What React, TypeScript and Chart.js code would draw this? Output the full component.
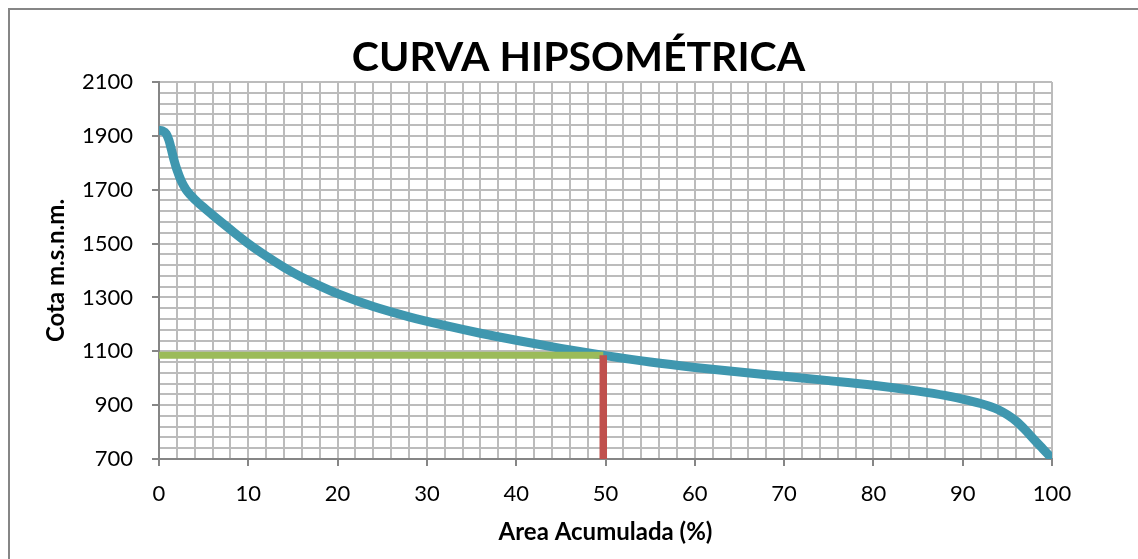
import React, { useEffect, useRef } from "react";
import { Chart, registerables } from "chart.js";

Chart.register(...registerables);

// ---- data ----
const areaAcumulada = [0, 0.4, 0.8, 1.1, 1.4, 1.7, 2, 2.5, 3, 3.5, 4, 5, 6, 8, 10, 12, 14, 16, 18, 20, 24, 28, 32, 36, 40, 45, 50, 55, 60, 65, 70, 75, 80, 85, 88, 90, 92, 93, 94, 95, 96, 97, 98, 99, 100];
const cotaMsnm = [1920, 1918, 1908, 1885, 1848, 1808, 1775, 1732, 1702, 1681, 1664, 1634, 1606, 1552, 1500, 1454, 1412, 1375, 1343, 1314, 1266, 1228, 1196, 1167, 1141, 1111, 1084, 1060, 1040, 1023, 1007, 991, 974, 952, 936, 922, 906, 896, 883, 864, 840, 808, 772, 737, 702];

const medianX = [0, 49.75];
const medianY = [1085, 1085];
const verticalX = [49.75, 49.75];
const verticalY = [1085, 700];

const chartTitle = "CURVA HIPSOMÉTRICA";
const xAxisTitle = "Area Acumulada (%)";
const yAxisTitle = "Cota m.s.n.m.";

const xMin = 0, xMax = 100, xMajor = 10, xMinor = 2;
const yMin = 700, yMax = 2100, yMajor = 200, yMinor = 40;

const toPoints = (xs: number[], ys: number[]) => xs.map((x, i) => ({ x, y: ys[i] }));

const FONT = "Lato";
const GRID = "#bcbcbc";
const AXIS = "#868686";

const CANVAS_W = 1137;
const CANVAS_H = 549;

const titlePlugin = {
  id: "centeredTitle",
  afterDraw(chart: any) {
    const ctx = chart.ctx;
    ctx.save();
    ctx.fillStyle = "#000";
    ctx.font = `bold 41px ${FONT}`;
    ctx.textAlign = "center";
    ctx.textBaseline = "middle";
    ctx.fillText(chartTitle, chart.width / 2, 48);
    ctx.restore();
  },
};

export default function App() {
  const ref = useRef<HTMLCanvasElement | null>(null);

  useEffect(() => {
    if (!ref.current) return;
    const chart = new Chart(ref.current, {
      type: "line",
      data: {
        datasets: [
          {
            data: toPoints(verticalX, verticalY),
            borderColor: "#C0504D",
            borderWidth: 7.5,
            pointRadius: 0,
            tension: 0,
          },
          {
            data: toPoints(medianX, medianY),
            borderColor: "#9BBB59",
            borderWidth: 7,
            pointRadius: 0,
            tension: 0,
          },
          {
            data: toPoints(areaAcumulada, cotaMsnm),
            borderColor: "#3F97AF",
            borderWidth: 9,
            pointRadius: 0,
            cubicInterpolationMode: "monotone",
            borderCapStyle: "round",
            borderJoinStyle: "round",
          },
        ],
      },
      options: {
        responsive: false,
        animation: false,
        devicePixelRatio: 1,
        layout: { padding: { left: 0, right: 95, top: 72, bottom: 0 } },
        plugins: {
          legend: { display: false },
          tooltip: { enabled: false },
          title: { display: false },
        },
        scales: {
          x: {
            type: "linear",
            min: xMin,
            max: xMax,
            afterFit: (s: any) => { s.height = 100; },
            ticks: {
              stepSize: xMinor,
              autoSkip: false,
              maxRotation: 0,
              padding: 15,
              color: "#000",
              font: { family: FONT, size: 22 },
              callback: (v: any) => (Number(v) % xMajor === 0 ? String(v) : ""),
            },
            grid: {
              color: GRID,
              lineWidth: 2,
              tickLength: 7,
              tickColor: (ctx: any) => (ctx.tick && ctx.tick.value % xMajor === 0 ? AXIS : "rgba(0,0,0,0)"),
            },
            border: { color: AXIS, width: 2 },
            title: {
              display: true,
              text: xAxisTitle,
              color: "#000",
              font: { family: FONT, size: 24, weight: "bold", lineHeight: 1.2 },
              padding: { top: 0, bottom: 12 },
            },
          },
          y: {
            type: "linear",
            min: yMin,
            max: yMax,
            afterFit: (s: any) => { s.width = 149; },
            ticks: {
              stepSize: yMinor,
              autoSkip: false,
              padding: 19,
              color: "#000",
              font: { family: FONT, size: 22 },
              callback: (v: any) => ((Number(v) - yMin) % yMajor === 0 ? String(v) : ""),
            },
            grid: {
              color: GRID,
              lineWidth: 2,
              tickLength: 7,
              tickColor: (ctx: any) => (ctx.tick && (ctx.tick.value - yMin) % yMajor === 0 ? AXIS : "rgba(0,0,0,0)"),
            },
            border: { color: AXIS, width: 2 },
            title: {
              display: true,
              text: yAxisTitle,
              color: "#000",
              font: { family: FONT, size: 24, weight: "bold", lineHeight: 1.2 },
              padding: { top: 32, bottom: 0 },
            },
          },
        },
      },
      plugins: [titlePlugin],
    } as any);
    return () => chart.destroy();
  }, []);

  return (
    <div style={{ position: "fixed", left: 0, top: 0, width: "100vw", height: "100vh", overflow: "hidden", background: "#fff" }}>
      <div
        style={{
          position: "absolute",
          left: 8,
          top: 8,
          borderLeft: `2px solid ${AXIS}`,
          borderTop: `2px solid ${AXIS}`,
          width: CANVAS_W,
          height: CANVAS_H,
        }}
      >
        <canvas ref={ref} width={CANVAS_W} height={CANVAS_H} style={{ display: "block", width: CANVAS_W, height: CANVAS_H }} />
      </div>
    </div>
  );
}
